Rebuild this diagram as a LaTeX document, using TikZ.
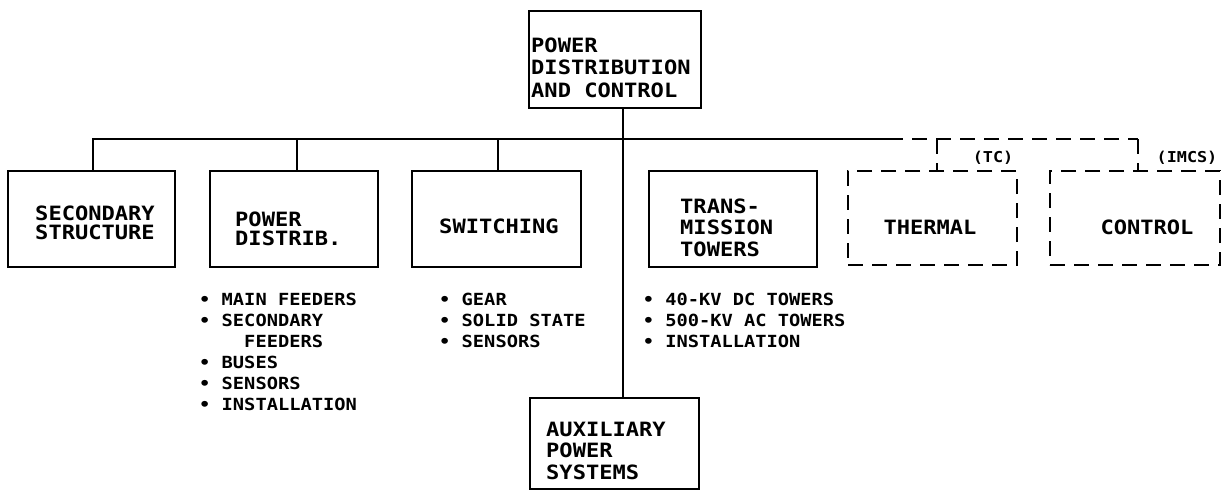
\documentclass[tikz,border=0pt]{standalone}
\usepackage{fontspec}
\newfontfamily\diafont[FakeStretch=1.12]{DejaVu Sans Mono}
\newcommand\dgfont[2]{\diafont\bfseries\fontsize{#1pt}{#2pt}\selectfont}
\begin{document}
\begin{tikzpicture}[x=1pt,y=-1pt,
  conn/.style={line width=2.2pt},
  dconn/.style={line width=2.2pt,dash pattern=on 15pt off 9pt},
  sbox/.style={draw,line width=2.2pt,inner sep=0pt},
  dbox/.style={draw,line width=2.2pt,inner sep=0pt,dash pattern=on 15pt off 9pt},
  txt/.style={inner sep=0pt,font={\dgfont{19.7}{22.7}}},
  lst/.style={inner sep=0pt,align=left,anchor=north west,font={\dgfont{16.7}{21.1}}},
  tag/.style={inner sep=0pt,font={\dgfont{15}{18}}}]
\useasboundingbox (0,0) rectangle (1223,495);
% boxes
\node[sbox,minimum width=172pt,minimum height=97pt] (top) at (615,59.5) {};
\node[sbox,minimum width=167pt,minimum height=96pt] (sec) at (91.5,219) {};
\node[sbox,minimum width=168pt,minimum height=96pt] (pd) at (294,219) {};
\node[sbox,minimum width=169pt,minimum height=96pt] (sw) at (496.5,219) {};
\node[sbox,minimum width=168pt,minimum height=96pt] (tr) at (733,219) {};
\node[dbox,minimum width=169pt,minimum height=94pt] (th) at (932.5,218) {};
\node[dbox,minimum width=170pt,minimum height=94pt] (co) at (1135,218) {};
\node[sbox,minimum width=169pt,minimum height=91pt] (aux) at (614.5,443.5) {};
% box texts
\node[txt,anchor=north west,align=left] (topT) at (531,37.3) {POWER\\DISTRIBUTION\\AND CONTROL};
\node[txt,anchor=north,align=center,font={\dgfont{19.7}{18.6}}] (secT) at (95,206) {SECONDARY\\STRUCTURE};
\node[txt,anchor=north west,align=left,font={\dgfont{19.7}{18.6}}] (pdT) at (235,211.7) {POWER\\DISTRIB.};
\node[txt] (swT) at (499,226.3) {SWITCHING};
\node[txt,anchor=north west,align=left,font={\dgfont{19.7}{21.7}}] (trT) at (680,198.3) {TRANS-\\MISSION\\TOWERS};
\node[txt] (thT) at (930,227) {THERMAL};
\node[txt] (coT) at (1147,227) {CONTROL};
\node[txt,anchor=north west,align=left,font={\dgfont{19.7}{21.7}}] (auxT) at (546,421.7) {AUXILIARY\\POWER\\SYSTEMS};
\node[tag] (tcL) at (993,158) {(TC)};
\node[tag] (imcsL) at (1187,158) {(IMCS)};
% lists
\node[lst] (pdL) at (199,292.7) {• MAIN FEEDERS\\• SECONDARY\\\phantom{• SE}FEEDERS\\• BUSES\\• SENSORS\\• INSTALLATION};
\node[lst] (swL) at (439,292.7) {• GEAR\\• SOLID STATE\\• SENSORS};
\node[lst] (trL) at (642.6,292.7) {• 40-KV DC TOWERS\\• 500-KV AC TOWERS\\• INSTALLATION};
% bus
\coordinate (b1) at (93,139);
\coordinate (b2) at (297,139);
\coordinate (b3) at (498,139);
\coordinate (tk) at (623,139);
\coordinate (bs) at (888,139);
\coordinate (b5) at (937,139);
\coordinate (b6) at (1138,139);
\draw[conn] (sec.north -| b1) -- (b1) -- (bs);
\draw[dconn] (bs) -- (b6);
\draw[conn] (b2) -- (pd.north -| b2);
\draw[conn] (b3) -- (sw.north -| b3);
\draw[conn] (top.south -| tk) -- (aux.north -| tk);
\draw[dconn] (b5) -- (th.north -| b5);
\draw[dconn] (b6) -- (co.north -| b6);
\end{tikzpicture}
\end{document}
